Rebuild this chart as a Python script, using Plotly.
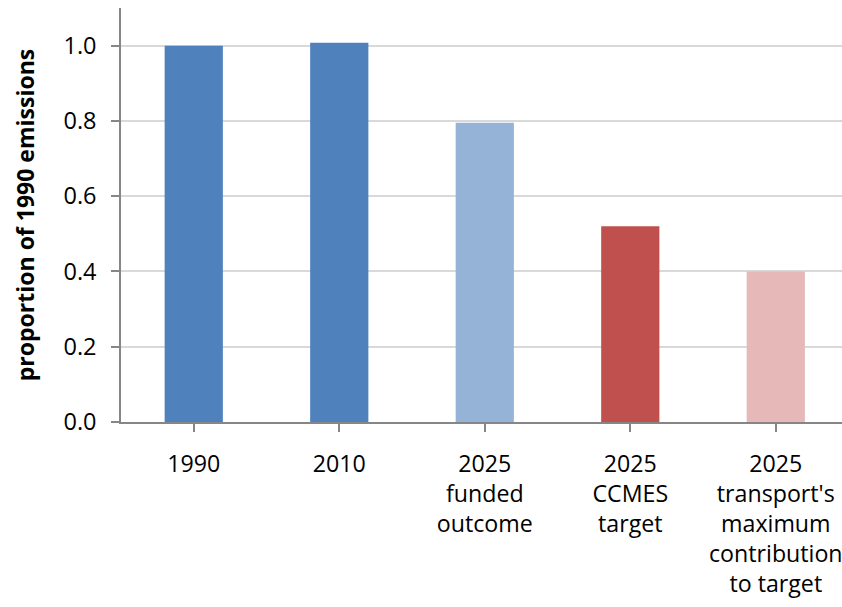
import plotly.graph_objects as go

# Emissions relative to the 1990 baseline
categories = [
    "1990",
    "2010",
    "2025<br>funded<br>outcome",
    "2025<br>CCMES<br>target",
    "2025<br>transport's<br>maximum<br>contribution<br>to target",
]
proportions = [1.0, 1.008, 0.795, 0.52, 0.40]
bar_colors = ["#4F81BD", "#4F81BD", "#95B3D7", "#C0504D", "#E6B9B8"]
y_ticks = [0.0, 0.2, 0.4, 0.6, 0.8, 1.0]
y_tick_labels = ["0.0", "0.2", "0.4", "0.6", "0.8", "1.0"]

x_pos = list(range(len(categories)))

fig = go.Figure(
    go.Bar(
        x=x_pos,
        y=proportions,
        marker=dict(color=bar_colors, line=dict(width=0)),
        width=0.4,
    )
)

axis_grey = "#868686"
font_family = "Open Sans, DejaVu Sans, sans-serif"

fig.update_layout(
    width=842,
    height=607,
    margin=dict(l=121, r=0, t=8, b=185, autoexpand=False),
    paper_bgcolor="white",
    plot_bgcolor="white",
    showlegend=False,
    font=dict(family=font_family, color="black"),
    xaxis=dict(
        range=[-0.5, 4.455],
        automargin=False,
        tickmode="array",
        tickvals=x_pos,
        ticktext=categories,
        tickfont=dict(size=23.2, color="black"),
        ticklabeloverflow="allow",
        showgrid=False,
        showline=True,
        linecolor=axis_grey,
        linewidth=1.5,
        ticks="outside",
        tickson="boundaries",
        ticklen=8,
        tickcolor=axis_grey,
        tickwidth=1.5,
        ticklabelstandoff=12,
        zeroline=False,
        fixedrange=True,
    ),
    yaxis=dict(
        range=[0, 1.1],
        automargin=False,
        tickmode="array",
        tickvals=y_ticks,
        ticktext=y_tick_labels,
        tickfont=dict(size=23.5, color="black"),
        showgrid=True,
        gridcolor="#D9D9D9",
        gridwidth=1.5,
        showline=True,
        linecolor=axis_grey,
        linewidth=1.5,
        ticks="outside",
        ticklen=8,
        tickcolor=axis_grey,
        tickwidth=1.5,
        ticklabelstandoff=10,
        zeroline=False,
        title=dict(
            text="<b>proportion of 1990 emissions</b>",
            font=dict(size=23, color="black"),
            standoff=22,
        ),
        fixedrange=True,
    ),
)

fig.write_html("out.html")
